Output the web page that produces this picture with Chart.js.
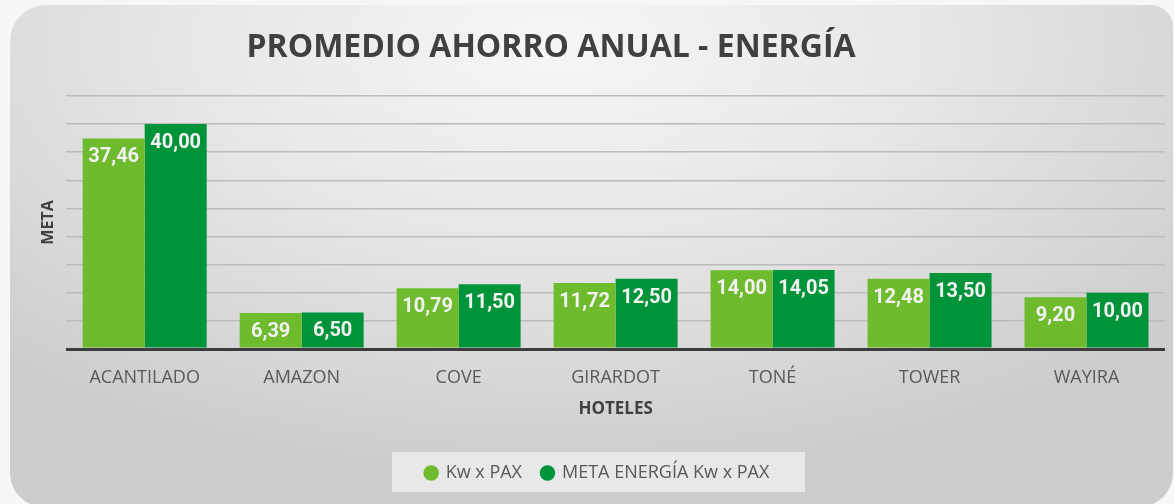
<!DOCTYPE html>
<html lang="es">
<head>
<meta charset="UTF-8">
<title>Promedio ahorro anual - Energía</title>
<script src="https://cdn.jsdelivr.net/npm/chart.js@4"></script>
<style>
  html, body { margin: 0; padding: 0; background: #f7f7f7; }
  .wrap { position: relative; width: 1174px; height: 504px; overflow: hidden; background: #f7f7f7; }
  /* panel gris con degradado */
  .panel { position: absolute; left: 10px; top: 5px; width: 1163px; height: 502px;
           border-radius: 36px 22px 34px 34px;
           background: radial-gradient(ellipse 70% 85% at 47% 8%, #f6f6f6 0%, #e7e7e7 45%, #d4d4d4 85%, #cdcdcd 100%); }
  .chart-box { position: absolute; left: 0; top: 0; width: 1174px; height: 504px; }
</style>
</head>
<body>
<div class="wrap">
  <div class="panel"></div>
  <div class="chart-box"><canvas id="chart"></canvas></div>
</div>
<script>
const categories = ['ACANTILADO', 'AMAZON', 'COVE', 'GIRARDOT', 'TONÉ', 'TOWER', 'WAYIRA'];
const kwPax = [37.46, 6.39, 10.79, 11.72, 14.00, 12.48, 9.20];
const metaEnergia = [40.00, 6.50, 11.50, 12.50, 14.05, 13.50, 10.00];
const seriesNames = ['Kw x PAX', 'META ENERGÍA Kw x PAX'];
const chartTitle = 'PROMEDIO AHORRO ANUAL - ENERGÍA';

const LIGHT = '#6ebc2e';
const DARK = '#00943a';
const TEXT = '#595959';

// titulo principal (desplazado a la izquierda como en el original)
const titlePlugin = {
  id: 'mainTitle',
  afterDraw(chart) {
    const ctx = chart.ctx;
    ctx.save();
    ctx.font = 'bold 32px "Open Sans", sans-serif';
    ctx.fillStyle = '#404040';
    ctx.textAlign = 'center';
    ctx.textBaseline = 'middle';
    ctx.fillText(chartTitle, 551, 48);
    ctx.restore();
  }
};

// fondo claro detras de la leyenda
const legendBg = {
  id: 'legendBg',
  beforeDraw(chart) {
    const lg = chart.legend;
    if (!lg) return;
    const ctx = chart.ctx;
    ctx.save();
    ctx.fillStyle = 'rgba(240,240,240,0.75)';
    ctx.fillRect(392, lg.top + 8, 413, 40);
    ctx.restore();
  }
};

// etiquetas de valor dentro de las barras
const valueLabels = {
  id: 'valueLabels',
  afterDatasetsDraw(chart) {
    const ctx = chart.ctx;
    ctx.save();
    ctx.font = 'bold 20px Roboto, sans-serif';
    ctx.fillStyle = '#f2f2f2';
    ctx.textAlign = 'center';
    ctx.textBaseline = 'middle';
    chart.data.datasets.forEach((ds, di) => {
      chart.getDatasetMeta(di).data.forEach((bar, i) => {
        const txt = ds.data[i].toFixed(2).replace('.', ',');
        ctx.fillText(txt, bar.x, bar.y + 19);
      });
    });
    ctx.restore();
  }
};

new Chart(document.getElementById('chart'), {
  type: 'bar',
  data: {
    labels: categories,
    datasets: [
      { label: seriesNames[0], data: kwPax, backgroundColor: LIGHT, borderWidth: 0 },
      { label: seriesNames[1], data: metaEnergia, backgroundColor: DARK, borderWidth: 0 }
    ]
  },
  options: {
    responsive: true,
    maintainAspectRatio: false,
    animation: false,
    layout: { padding: { left: 30, right: 9, top: 96, bottom: 12 } },
    datasets: { bar: { categoryPercentage: 0.79, barPercentage: 1.0 } },
    plugins: {
      title: { display: false },
      tooltip: { enabled: false },
      legend: {
        position: 'bottom',
        labels: {
          usePointStyle: true,
          pointStyle: 'circle',
          boxWidth: 11,
          boxHeight: 11,
          padding: 20,
          color: TEXT,
          font: { family: '"Open Sans", sans-serif', size: 18 }
        }
      }
    },
    scales: {
      x: {
        afterFit(scale) { scale.height = 95; },
        grid: { display: false, drawTicks: false },
        border: { display: false },
        ticks: { color: TEXT, padding: 18, font: { family: '"Open Sans", sans-serif', size: 18 } },
        title: {
          display: true, text: 'HOTELES', color: '#404040',
          font: { family: '"Open Sans", sans-serif', size: 17, weight: 'bold' },
          padding: { top: 0, bottom: 25 }
        }
      },
      y: {
        min: 0, max: 45,
        ticks: { display: false, stepSize: 5 },
        border: { display: false },
        grid: {
          drawTicks: false,
          color: c => c.tick.value === 0 ? '#3c3c3c' : '#bcbcbc',
          lineWidth: c => c.tick.value === 0 ? 3 : 1.5
        },
        title: {
          display: true, text: 'META', color: '#404040',
          font: { family: '"Open Sans", sans-serif', size: 16, weight: 'bold' },
          padding: { top: 9, bottom: 8 }
        }
      }
    }
  },
  plugins: [legendBg, valueLabels, titlePlugin]
});
</script>
</body>
</html>
